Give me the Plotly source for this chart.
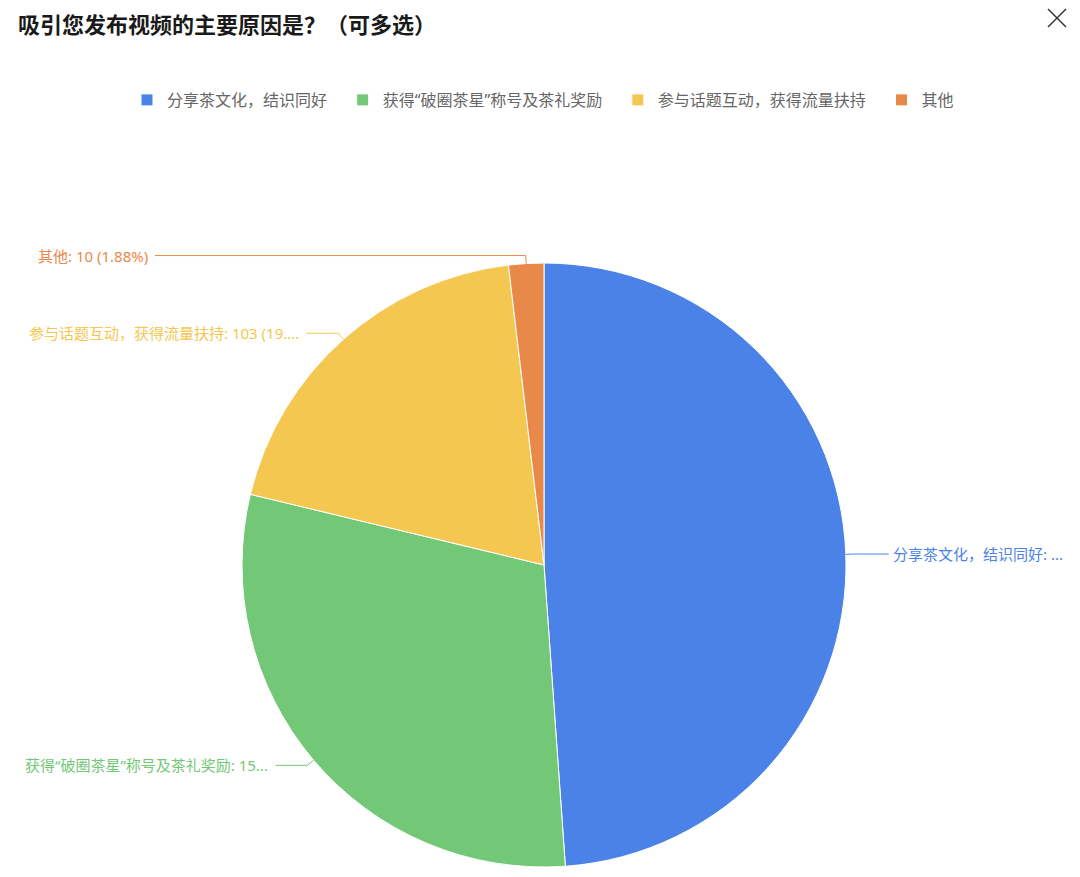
import math
import plotly.graph_objects as go

categories = ["分享茶文化，结识同好", "获得“破圈茶星”称号及茶礼奖励", "参与话题互动，获得流量扶持", "其他"]
values = [260, 159, 103, 10]
colors = ["#4A82E8", "#73C877", "#F4C750", "#E8894A"]
label_max_chars = [12, 19, 23, 99]  # truncation as in the reference labels

OFF = 8  # page body margin
W, H = 1080 - 2 * OFF, 877 - 2 * OFF
CX, CY, R = 544 - OFF, 565 - OFF, 302
FONT = "Noto Sans, Noto Sans CJK SC, sans-serif"

# legend entries get a little extra trailing room, like the reference spacing
PAD = "\u2002\u2009"
legend_labels = [c + (PAD if i < len(categories) - 1 else "") for i, c in enumerate(categories)]

fig = go.Figure()
fig.add_trace(go.Pie(
    labels=legend_labels, values=values, sort=False, direction="clockwise", rotation=0,
    marker=dict(colors=colors, line=dict(color="white", width=1)),
    textinfo="none", hoverinfo="label+value+percent",
    domain=dict(x=[(CX - R) / W, (CX + R) / W], y=[(H - CY - R) / H, (H - CY + R) / H]),
))

def px(x):
    return x / W

def py(y):
    return 1 - y / H

total = sum(values)
shapes = []
annotations = []
cum = 0
for name, v, c, mx in zip(categories, values, colors, label_max_chars):
    mid = (cum + v / 2) / total * 2 * math.pi
    cum += v
    sx, sy = CX + R * math.sin(mid), CY - R * math.cos(mid)
    ex, ey = CX + (R + 8) * math.sin(mid), CY - (R + 8) * math.cos(mid)
    right = math.sin(mid) >= 0
    full = f"{name}: {v} ({v / total * 100:.2f}%)"
    text = full if len(full) <= mx else full[:mx] + "..."
    if right:
        hx = ex + 35
        tx, anchor = hx + 2, "left"
    else:
        hx = ex - 32
        if v / total < 0.05:
            hx = 155 - OFF
        tx, anchor = hx - 5, "right"
    for (x0, y0, x1, y1) in [(sx, sy, ex, ey), (ex, ey, hx, ey)]:
        shapes.append(dict(type="line", xref="paper", yref="paper",
                           x0=px(x0), y0=py(y0), x1=px(x1), y1=py(y1),
                           line=dict(color=c, width=1)))
    annotations.append(dict(text=text, x=px(tx), y=py(ey), xref="paper", yref="paper",
                            xanchor=anchor, yanchor="middle", showarrow=False,
                            font=dict(size=15, color=c, family=FONT)))

# title
annotations.append(dict(text="<b>吸引您发布视频的主要原因是？（可多选）</b>", x=px(17 - OFF), y=1.0,
                        xref="paper", yref="paper", xanchor="left", yanchor="top", borderpad=0,
                        showarrow=False, font=dict(size=22, color="#1a1a1a", family=FONT)))
# close icon
for (a, b, c2, d) in [(1048, 9, 1066, 27), (1048, 27, 1066, 9)]:
    shapes.append(dict(type="line", xref="paper", yref="paper", x0=px(a - OFF), y0=py(b - OFF),
                       x1=px(c2 - OFF), y1=py(d - OFF), line=dict(color="#333333", width=1.5)))

fig.update_layout(
    width=W, height=H, margin=dict(l=0, r=0, t=0, b=0),
    paper_bgcolor="white", plot_bgcolor="white",
    font=dict(family=FONT),
    showlegend=True,
    legend=dict(orientation="h", x=px(543 - OFF), xanchor="center", y=py(100 - OFF), yanchor="middle",
                font=dict(size=16, color="#666666", family=FONT), itemwidth=30,
                traceorder="normal"),
    shapes=shapes, annotations=annotations,
)
fig.write_html("out.html")
